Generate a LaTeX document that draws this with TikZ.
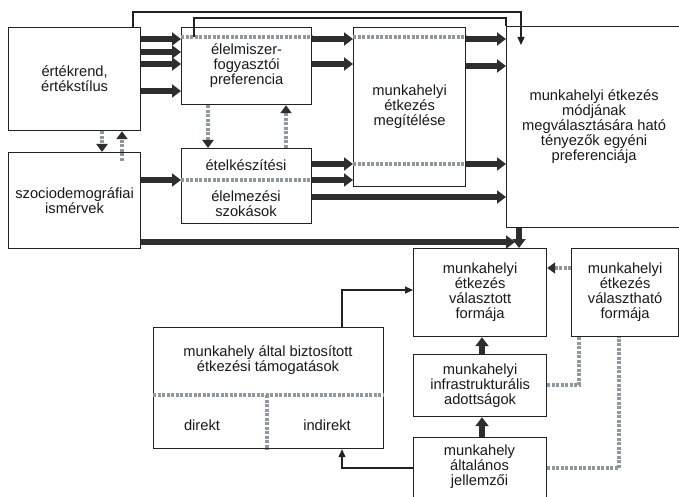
\documentclass[tikz,border=0pt]{standalone}
\usepackage{fontspec}
\setmainfont{Liberation Sans}
\usetikzlibrary{arrows.meta}
\definecolor{boxline}{HTML}{222222}
\definecolor{darkarr}{HTML}{2E2E2E}
\definecolor{dotgray}{HTML}{8F979F}
\newcommand{\fs}{\fontsize{14.7pt}{15pt}\selectfont}
\tikzset{
  box/.style={draw=boxline, line width=1.2pt, anchor=north west, inner sep=0pt, align=center, font=\fs, text=black!90},
  lbl/.style={inner sep=0pt, align=center, font=\fs, text=black!90},
  thickarr/.style={draw=darkarr, line width=5.5pt, -{Triangle[length=9pt,width=13pt]}},
  dotline/.style={draw=dotgray, line width=4pt, dash pattern=on 3pt off 1.5pt},
  dotarr/.style={dotline, -{Triangle[length=8pt,width=11pt,color=darkarr]}},
  thinline/.style={draw=boxline, line width=1.2pt},
  thinarr/.style={thinline, -{Triangle[length=8pt,width=7pt]}}
}
\begin{document}
\begin{tikzpicture}[x=1pt, y=-1pt]
\useasboundingbox (0,0) rectangle (679,497);
\fill[white] (0,0) rectangle (679,497);
\clip (0,0) rectangle (679,497);
% boxes
\node[box, minimum width=132pt, minimum height=103pt] (A) at (8,27) {értékrend,\\értékstílus};
\node[box, minimum width=132pt, minimum height=96pt] (B) at (8,152) {szociodemográfiai\\ismérvek};
\node[box, minimum width=130pt, minimum height=77pt] (C) at (181,27) {élelmiszer-\\fogyasztói\\preferencia};
\node[box, minimum width=130pt, minimum height=75pt] (D) at (181,148) {};
\node[box, minimum width=112pt, minimum height=159pt] (E) at (353,27) {munkahelyi\\étkezés\\megítélése};
\node[box, minimum width=175pt, minimum height=201pt] (F) at (506,26) {munkahelyi étkezés\\módjának\\megválasztására ható\\tényezők egyéni\\preferenciája};
\node[box, minimum width=133pt, minimum height=88pt] (G) at (413,248) {munkahelyi\\étkezés\\választott\\formája};
\node[box, minimum width=107pt, minimum height=88pt] (H) at (571,248) {munkahelyi\\étkezés\\választható\\formája};
\node[box, minimum width=133pt, minimum height=62pt] (I) at (413,354) {munkahelyi\\infrastrukturális\\adottságok};
\node[box, minimum width=133pt, minimum height=74pt, anchor=north west] (J) at (413,437) {};
\node[lbl] (J1) at (479.5,467) {munkahely\\általános\\jellemzői};
\node[box, minimum width=230pt, minimum height=121pt] (K) at (153,327) {};
% texts in split boxes
\node[lbl] (D1) at (246,165) {ételkészítési};
\node[lbl] (D2) at (246,204) {élelmezési\\szokások};
\node[lbl] (K1) at (268,360) {munkahely által biztosított\\étkezési támogatások};
\node[lbl] (K2) at (202,425) {direkt};
\node[lbl] (K3) at (327,425) {indirekt};
% dotted dividers
\draw[dotline] (C.west |- 0,37) -- (C.east |- 0,37);
\draw[dotline] (E.west |- 0,37) -- (E.east |- 0,37);
\draw[dotline] (E.west |- 0,164) -- (E.east |- 0,164);
\draw[dotline] (D.west |- 0,180) -- (D.east |- 0,180);
\draw[dotline] (K.west |- 0,395) -- (K.east |- 0,395);
\draw[dotline] (267,395) -- (K.south -| 267,0);
% thick arrows
\foreach \yy in {39,52,64,91} \draw[thickarr] (A.east |- 0,\yy) -- (C.west |- 0,\yy);
\foreach \yy in {39,64} \draw[thickarr] (C.east |- 0,\yy) -- (E.west |- 0,\yy);
\foreach \yy in {39,66,164} \draw[thickarr] (E.east |- 0,\yy) -- (F.west |- 0,\yy);
\foreach \yy in {164,180} \draw[thickarr] (D.east |- 0,\yy) -- (E.west |- 0,\yy);
\draw[thickarr] (D.east |- 0,197) -- (F.west |- 0,197);
\draw[thickarr] (B.east |- 0,180) -- (D.west |- 0,180);
\coordinate (Bend) at (515,242);
\draw[thickarr] (B.east |- Bend) -- (Bend);
\draw[thickarr] (F.south -| 519,0) -- (G.north -| 519,0);
\draw[thickarr] (I.north -| 482,0) -- (G.south -| 482,0);
\draw[thickarr] (J.north -| 482,0) -- (I.south -| 482,0);
% top thin connectors
\coordinate (Ftip) at (521,45);
\draw[thinarr] (A.north -| 133,0) -- (133,12) -- (521,12) -- (Ftip);
\coordinate (Cdot) at (194,37);
\draw[thinline] (Cdot) -- (194,18) -- (F.north west |- 0,18) -- (F.north west);
% dotted arrows
\draw[dotarr] (A.south -| 102,0) -- (B.north -| 102,0);
\coordinate (Bdot) at (122,161);
\draw[dotarr] (Bdot) -- (A.south -| 122,0);
\draw[dotarr] (C.south -| 208,0) -- (D.north -| 208,0);
\draw[dotarr] (D.north -| 286,0) -- (C.south -| 286,0);
\draw[dotarr] (H.west |- 0,268) -- (G.east |- 0,268);
% lower thin connectors
\draw[thinarr] (K.north -| 342,0) |- (G.west |- 0,290);
\draw[thinarr] (J.west |- 0,468) -| (K.south -| 342,0);
% lower dotted connectors
\draw[dotline] (I.east |- 0,385) -| (H.south -| 579,0);
\draw[dotline] (J.east |- 0,468) -| (H.south -| 619,0);
\end{tikzpicture}
\end{document}
